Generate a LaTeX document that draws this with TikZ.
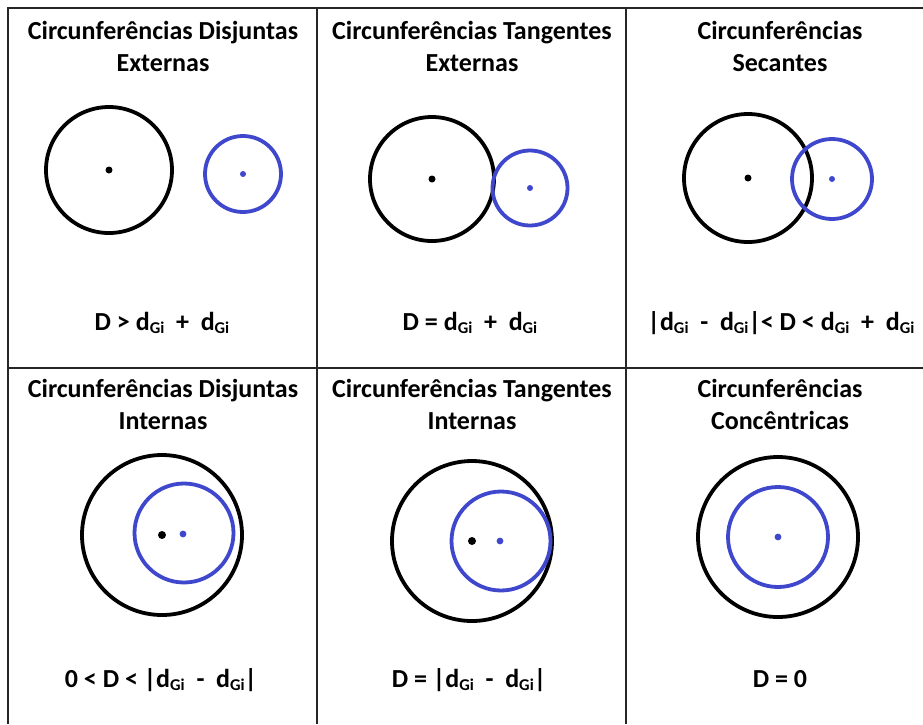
\documentclass[tikz,border=0pt]{standalone}
\usepackage{fontspec}
\setmainfont{Carlito}
\definecolor{paintblue}{RGB}{63,72,204}
\newcommand{\gsub}{\raisebox{-0.3ex}{\fontsize{16.5}{16.5}\selectfont Gi}}
\newcommand{\dg}{d\gsub}
\begin{document}
\begin{tikzpicture}[x=1pt,y=-1pt,
  grid/.style={line width=1.8pt,black!85},
  title/.style={anchor=base,font=\fontsize{26}{32}\selectfont\bfseries,inner sep=0pt},
  formula/.style={anchor=base,font=\fontsize{26}{30}\selectfont\bfseries,inner sep=0pt},
  bigc/.style={line width=3.8pt,black},
  smallc/.style={line width=3.8pt,paintblue},
  bdot/.style={fill=black},
  udot/.style={fill=paintblue}]
\useasboundingbox (0,0) rectangle (923,724);
% grid
\draw[grid] (8,724) -- (8,8) -- (923,8);
\draw[grid] (8,368) -- (923,368);
\draw[grid] (317,8) -- (317,724);
\draw[grid] (626,8) -- (626,724);
% titles row 1
\node[title] (t1a) at (163,39) {Circunferências Disjuntas};
\node[title] (t1b) at (163,71) {Externas};
\node[title] (t2a) at (472,39) {Circunferências Tangentes};
\node[title] (t2b) at (472,71) {Externas};
\node[title] (t3a) at (780,39) {Circunferências};
\node[title] (t3b) at (780,71) {Secantes};
% titles row 2
\node[title] (t4a) at (163,397) {Circunferências Disjuntas};
\node[title] (t4b) at (163,429) {Internas};
\node[title] (t5a) at (472,397) {Circunferências Tangentes};
\node[title] (t5b) at (472,429) {Internas};
\node[title] (t6a) at (780,397) {Circunferências};
\node[title] (t6b) at (780,429) {Concêntricas};
% formulas
\node[formula] (f1) at (162,330) {D > \dg\ \ + \ \dg};
\node[formula] (f2) at (470,330) {D = \dg\ \ + \ \dg};
\node[formula] (f3) at (781,330) {|\dg\ \ - \ \dg|< D < \dg\ \ + \ \dg};
\node[formula] (f4) at (161,687) {0 < D < |\dg\ \ - \ \dg|};
\node[formula] (f5) at (469,687) {D = |\dg\ \ - \ \dg|};
\node[formula] (f6) at (780,687) {D = 0};
% panel 1
\draw[bigc] (109,170) circle (63);
\fill[bdot] (109,170) circle (3.5);
\draw[smallc] (243,174) circle (38);
\fill[udot] (243,174) circle (3);
% panel 2
\draw[bigc] (432,179) circle (62);
\fill[bdot] (432,179) circle (3.5);
\draw[smallc] (530,188) circle (37.5);
\fill[udot] (530,188) circle (3);
% panel 3
\draw[bigc] (748,178) circle (64);
\fill[bdot] (748,178) circle (3.5);
\draw[smallc] (832,179) circle (40);
\fill[udot] (832,179) circle (3);
% panel 4
\draw[bigc] (162,535) circle (80);
\draw[smallc] (184,533) circle (49.5);
\fill[bdot] (162,535) circle (4);
\fill[udot] (183,534) circle (3.4);
% panel 5
\draw[bigc] (472,541) circle (80);
\draw[smallc] (501,541) circle (49.5);
\fill[bdot] (472,541) circle (4);
\fill[udot] (500,541) circle (3.4);
% panel 6
\draw[bigc] (778,537) circle (80);
\draw[smallc] (778,537) circle (50);
\fill[udot] (778,537) circle (3.4);
\end{tikzpicture}
\end{document}
